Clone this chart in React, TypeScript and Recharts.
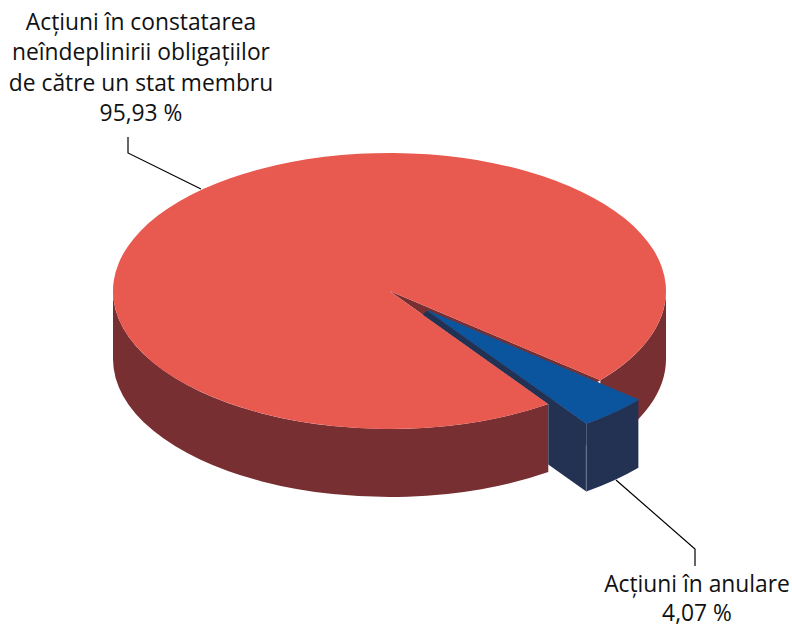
import React from 'react';
import { PieChart, Pie, Cell } from 'recharts';

const categories = ['Acțiuni în constatarea neîndeplinirii obligațiilor de către un stat membru', 'Acțiuni în anulare'];
const shares = [95.93, 4.07];
const shareLabels = ['95,93 %', '4,07 %'];
const labelLines = [
  ['Acțiuni în constatarea', 'neîndeplinirii obligațiilor', 'de către un stat membru', shareLabels[0]],
  ['Acțiuni în anulare', shareLabels[1]],
];
const topColors = ['#e85950', '#0b559f'];
const sideColors = ['#782f32', '#233252'];

const data = categories.map((name, i) => ({ name, value: shares[i] }));

const WIDTH = 792;
const HEIGHT = 627;
const CX = 389.5;
const CY = 291;
const RX = 276.5;
const SQUASH = 138 / 276.5;
const DEPTH = 68;
const EXPLODE = { x: 38, y: 19.5 };
const START_ANGLE = -40.3;
const FONT = '"Open Sans", "Noto Sans", sans-serif';

// pie angles are counter-clockwise from 3 o'clock, as in recharts
const pt = (cx: number, cy: number, r: number, deg: number) => ({
  x: cx + r * Math.cos((deg * Math.PI) / 180),
  y: cy - r * SQUASH * Math.sin((deg * Math.PI) / 180),
});

const arcTo = (r: number, x: number, y: number, sweep: number, large = 0) =>
  `A ${r} ${r * SQUASH} 0 ${large} ${sweep} ${x} ${y}`;

const wallPath = (cx: number, cy: number, r: number, from: number, to: number) => {
  // from > to, runs clockwise on screen along the front edge
  const a = pt(cx, cy, r, from);
  const b = pt(cx, cy, r, to);
  return `M ${a.x} ${a.y} ${arcTo(r, b.x, b.y, 1)} L ${b.x} ${b.y + DEPTH} ${arcTo(r, a.x, a.y + DEPTH, 0)} Z`;
};

const topPath = (cx: number, cy: number, r: number, start: number, end: number) => {
  const a = pt(cx, cy, r, start);
  const b = pt(cx, cy, r, end);
  const large = end - start > 180 ? 1 : 0;
  return `M ${cx} ${cy} L ${a.x} ${a.y} ${arcTo(r, b.x, b.y, 0, large)} Z`;
};

// the thick disc with the gap left by the pulled-out slice
const RedSlice = ({ cx, cy, outerRadius, startAngle, endAngle, fill, index }: any) => {
  const gapEnd = endAngle - 360;
  return (
    <g>
      <path d={wallPath(cx, cy, outerRadius, 0, startAngle)} fill={sideColors[index]} />
      <path d={wallPath(cx, cy, outerRadius, gapEnd, -180)} fill={sideColors[index]} />
      <path d={topPath(cx, cy, outerRadius, gapEnd, startAngle)} fill={sideColors[index]} />
      <path d={topPath(cx, cy, outerRadius, startAngle, endAngle)} fill={fill} />
    </g>
  );
};

const BlueSlice = ({ cx, cy, outerRadius, startAngle, endAngle, fill, index }: any) => {
  const ox = cx + EXPLODE.x;
  const oy = cy + EXPLODE.y;
  const front = pt(ox, oy, outerRadius, startAngle);
  // where the red slice's cut edge stops hiding the blue side face
  const cut = pt(cx, cy, outerRadius, startAngle);
  const slope = (front.y - oy) / (front.x - ox);
  const hidden = { x: cut.x, y: oy + (cut.x - ox) * slope + DEPTH };
  const nearApex = { x: ox - 5, y: cy + ((ox - 5 - cx) * (cut.y - cy)) / (cut.x - cx) };
  const side = sideColors[index];
  return (
    <g>
      <path
        d={`M ${ox} ${oy} L ${front.x} ${front.y} L ${front.x} ${front.y + DEPTH} L ${hidden.x} ${hidden.y} L ${cut.x} ${cut.y} L ${nearApex.x} ${nearApex.y} Z`}
        fill={side}
      />
      <path d={wallPath(ox, oy, outerRadius, endAngle, startAngle)} fill={side} />
      <path d={topPath(ox, oy, outerRadius, startAngle, endAngle)} fill={fill} stroke="#1d4f8c" strokeWidth={1} />
      <line x1={front.x} y1={front.y + 22} x2={front.x} y2={front.y + DEPTH} stroke="#6d7a94" strokeWidth={1} />
    </g>
  );
};

const SliceShape = (props: any) => (props.index === 0 ? <RedSlice {...props} /> : <BlueSlice {...props} />);

const leaders = ['201,189 128,153 128,137', '616,480 695,549 695,566'];
const labelPos = [
  { x: 141, y: 30, step: 30.4 },
  { x: 697, y: 592, step: 28.5 },
];

const SliceLabel = ({ index }: any) => (
  <g>
    <polyline points={leaders[index]} fill="none" stroke="#000" strokeWidth={1.2} />
    <text textAnchor="middle" fontFamily={FONT} fontSize={22.8} fill="#111">
      {labelLines[index].map((line, i) => (
        <tspan key={line} x={labelPos[index].x} y={labelPos[index].y + i * labelPos[index].step}>
          {line}
        </tspan>
      ))}
    </text>
  </g>
);

const App: React.FC = () => (
  <div style={{ position: 'absolute', left: 0, top: 0, width: WIDTH, height: HEIGHT, background: '#fff' }}>
    <PieChart width={WIDTH} height={HEIGHT} margin={{ top: 0, right: 0, bottom: 0, left: 0 }}>
      <Pie
        data={data}
        dataKey="value"
        nameKey="name"
        cx={CX}
        cy={CY}
        innerRadius={0}
        outerRadius={RX}
        startAngle={START_ANGLE}
        endAngle={START_ANGLE + 360}
        stroke="none"
        shape={SliceShape}
        label={SliceLabel}
        labelLine={false}
        isAnimationActive={false}
      >
        {data.map((d, i) => (
          <Cell key={d.name} fill={topColors[i]} />
        ))}
      </Pie>
    </PieChart>
  </div>
);

export default App;
